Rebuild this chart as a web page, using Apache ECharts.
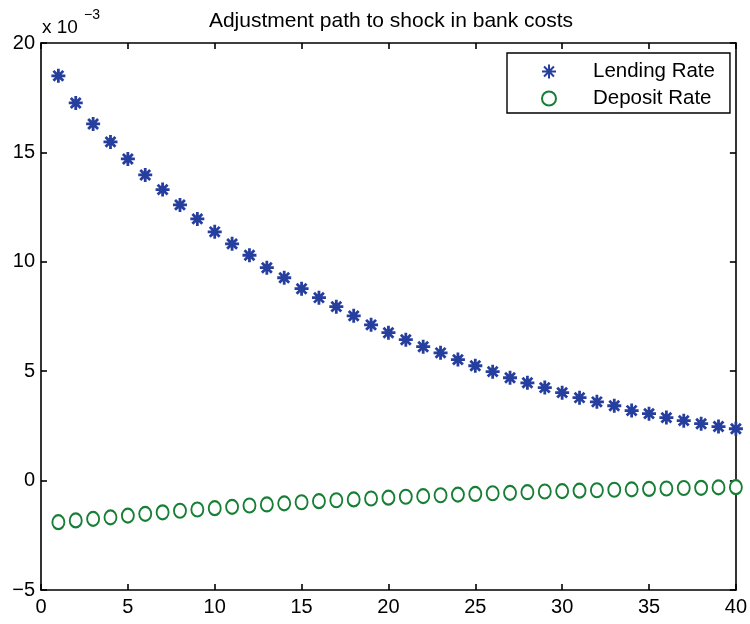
<!DOCTYPE html>
<html>
<head>
<meta charset="utf-8">
<script src="https://cdn.jsdelivr.net/npm/echarts@6/dist/echarts.min.js"></script>
<style>html,body{margin:0;padding:0;background:#fff}#c{width:750px;height:624px}</style>
</head>
<body>
<div id="c"></div>
<script>
// values in units of 1e-3
const periods = [];
for (let i = 1; i <= 40; i++) periods.push(i);
const lendingRate = [18.5, 17.26, 16.3, 15.48, 14.7, 13.97, 13.3, 12.6, 11.96, 11.37,
  10.82, 10.3, 9.73, 9.27, 8.77, 8.36, 7.95, 7.53, 7.12, 6.76,
  6.44, 6.12, 5.84, 5.53, 5.25, 4.98, 4.7, 4.47, 4.25, 4.02,
  3.79, 3.6, 3.42, 3.2, 3.06, 2.88, 2.74, 2.6, 2.47, 2.37];
const depositRate = [-1.9, -1.82, -1.75, -1.68, -1.6, -1.52, -1.45, -1.38, -1.32, -1.26,
  -1.2, -1.14, -1.09, -1.04, -0.99, -0.94, -0.9, -0.86, -0.82, -0.78,
  -0.74, -0.71, -0.67, -0.64, -0.61, -0.58, -0.56, -0.53, -0.5, -0.48,
  -0.46, -0.44, -0.42, -0.4, -0.38, -0.36, -0.34, -0.33, -0.31, -0.3];
const xTicks = [0, 5, 10, 15, 20, 25, 30, 35, 40];
const yTicks = [-5, 0, 5, 10, 15, 20];

const FONT = 'Liberation Sans, Arial, sans-serif';
const chart = echarts.init(document.getElementById('c'));
const asterisk = 'path://M0,-10L0,10M-10,0L10,0M-7.07,-7.07L7.07,7.07M-7.07,7.07L7.07,-7.07';
const axisCommon = {
  axisLine: {show: true, onZero: false, lineStyle: {color: '#000', width: 1.6}},
  axisTick: {show: true, inside: true, length: 6, lineStyle: {color: '#000', width: 1.6}},
  splitLine: {show: false}
};
chart.setOption({
  animation: false,
  backgroundColor: '#fff',
  title: {
    text: 'Adjustment path to shock in bank costs',
    left: 386, top: 6, textAlign: 'center',
    textStyle: {fontFamily: FONT, fontSize: 21, fontWeight: 'normal', color: '#000'}
  },
  graphic: [
    {type: 'text', x: 42, y: 28,
      style: {text: 'x 10', fontFamily: FONT, fontSize: 19, fill: '#000', verticalAlign: 'middle'}},
    {type: 'text', x: 84, y: 15,
      style: {text: '−3', fontFamily: FONT, fontSize: 14, fill: '#000', verticalAlign: 'middle'}}
  ],
  legend: {
    orient: 'vertical', left: 507, top: 53,
    itemGap: 6, itemWidth: 28, itemHeight: 14,
    padding: [8, 15, 4, 34],
    borderColor: '#000', borderWidth: 1.4, backgroundColor: '#fff',
    textStyle: {fontFamily: FONT, fontSize: 20.5, color: '#000', padding: [0, 0, 0, 25]},
    data: ['Lending Rate', 'Deposit Rate']
  },
  grid: {left: 41, right: 13, top: 43, bottom: 34},
  xAxis: [
    Object.assign({type: 'value', min: xTicks[0], max: xTicks[xTicks.length - 1], interval: 5, position: 'bottom',
      axisLabel: {fontFamily: FONT, fontSize: 20, color: '#000', margin: 7}}, axisCommon),
    Object.assign({type: 'value', min: 0, max: 40, interval: 5, position: 'top', axisLabel: {show: false}}, axisCommon)
  ],
  yAxis: [
    Object.assign({type: 'value', min: yTicks[0], max: yTicks[yTicks.length - 1], interval: 5, position: 'left',
      axisLabel: {fontFamily: FONT, fontSize: 20, color: '#000', margin: 6,
        formatter: v => (v < 0 ? '−' + Math.abs(v) : String(v))}}, axisCommon),
    Object.assign({type: 'value', min: -5, max: 20, interval: 5, position: 'right', axisLabel: {show: false}}, axisCommon)
  ],
  series: [
    {
      name: 'Lending Rate', type: 'scatter', symbol: asterisk, symbolSize: 14,
      itemStyle: {color: 'rgba(0,0,0,0)', borderColor: '#263f9f', borderWidth: 2.8, opacity: 1},
      data: periods.map((p, i) => [p, lendingRate[i]])
    },
    {
      name: 'Deposit Rate', type: 'scatter', symbol: 'emptyCircle', symbolSize: [12, 14],
      itemStyle: {color: '#177f35', borderColor: '#177f35', borderWidth: 2.4, opacity: 1},
      data: periods.map((p, i) => [p, depositRate[i]])
    }
  ]
});
</script>
</body>
</html>
